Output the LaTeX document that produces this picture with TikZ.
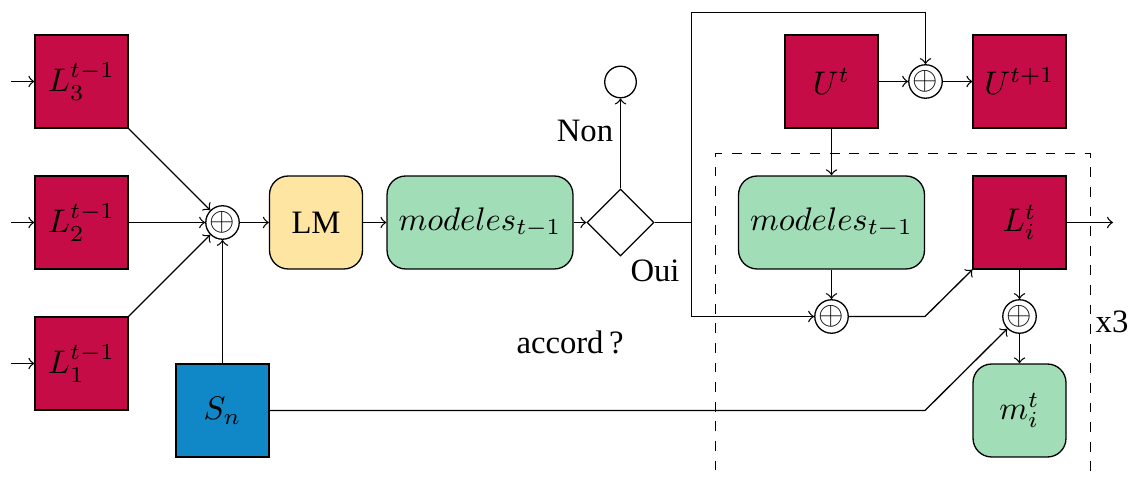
\documentclass[tikz,border=0pt]{standalone}
\usepackage{fontspec}
\setmainfont{Liberation Serif}
\usetikzlibrary{shapes.geometric}
\definecolor{myred}{RGB}{198,12,70}
\definecolor{myblue}{RGB}{16,136,200}
\definecolor{mygreen}{RGB}{161,221,183}
\definecolor{myyellow}{RGB}{255,229,162}
\tikzset{
  redbox/.style={draw, fill=myred, minimum size=1cm, inner sep=0pt},
  bluebox/.style={draw, fill=myblue, minimum size=1cm, inner sep=0pt},
  greenbox/.style={draw, fill=mygreen, rounded corners=0.2cm, minimum height=1cm, minimum width=2cm, inner sep=0pt},
  greensq/.style={draw, fill=mygreen, rounded corners=0.2cm, minimum size=1cm, inner sep=0pt},
  yellowbox/.style={draw, fill=myyellow, rounded corners=0.2cm, minimum size=1cm, inner sep=0pt},
  opl/.style={circle, draw, inner sep=0pt, minimum size=0.36cm},
  endc/.style={circle, draw, inner sep=0pt, minimum size=0.34cm},
  decide/.style={diamond, draw, aspect=1, inner sep=0pt, minimum width=0.72cm, minimum height=0.72cm},
  conn/.style={->},
  lbl/.style={inner sep=0pt}
}
\begin{document}
\begin{tikzpicture}[x=0.010753cm, y=-0.010753cm]
\clip (0,0) rectangle (1132,479);
% dashed frame
\draw[dashed] (715.5,490) -- (715.5,153.5) -- (1090.5,153.5) -- (1090.5,490);
% left boxes
\node[redbox] (L3) at (81.5,81.5) {$L_3^{t-1}$};
\node[redbox] (L2) at (81.5,222.5) {$L_2^{t-1}$};
\node[redbox] (L1) at (81.5,363.5) {$L_1^{t-1}$};
\coordinate (i3) at (11,81.5);
\coordinate (i2) at (11,222.5);
\coordinate (i1) at (11,363.5);
\draw[conn] (i3) -- (L3);
\draw[conn] (i2) -- (L2);
\draw[conn] (i1) -- (L1);
\node[opl] (o1) at (222.5,222.5) {$\oplus$};
\node[bluebox] (Sn) at (222.5,410.5) {$S_n$};
\node[yellowbox] (LM) at (316,222.5) {LM};
\node[greenbox] (M1) at (480,222.5) {$modeles_{t-1}$};
\node[decide] (D) at (620.5,222.5) {};
\node[endc] (E) at (620.5,82) {};
\node[lbl] at (585,131) {Non};
\node[lbl] at (655,271) {Oui};
\node[lbl] at (570,342) {accord\,?};
\draw[conn] (L3.south east) -- (o1);
\draw[conn] (L2) -- (o1);
\draw[conn] (L1.north east) -- (o1);
\draw[conn] (Sn) -- (o1);
\draw[conn] (o1) -- (LM);
\draw[conn] (LM) -- (M1);
\draw[conn] (M1) -- (D);
\draw[conn] (D) -- (E);
% right part
\node[redbox] (U) at (831.5,81.5) {$U^t$};
\node[opl] (o2) at (925.5,81.5) {$\oplus$};
\node[redbox] (U1) at (1019.5,81.5) {$U^{t+1}$};
\node[greenbox] (M2) at (831.5,222.5) {$modeles_{t-1}$};
\node[redbox] (Li) at (1019.5,222.5) {$L_i^t$};
\node[opl] (o3) at (831.5,316.5) {$\oplus$};
\node[opl] (o4) at (1019.5,316.5) {$\oplus$};
\node[greensq] (m) at (1019.5,410.5) {$m_i^t$};
\node[lbl] at (1112,322) {x3};
\coordinate (j) at (691.5,222.5);
\coordinate (top) at (691.5,12.5);
\coordinate (k1) at (925,316.5);
\coordinate (k2) at (925,410.5);
\coordinate (out) at (1113,222.5);
\draw (D.east) -- (j);
\draw[conn] (j) -- (top) -| (o2);
\draw[conn] (j) |- (o3);
\draw[conn] (U) -- (o2);
\draw[conn] (o2) -- (U1);
\draw[conn] (U) -- (M2);
\draw[conn] (M2) -- (o3);
\draw[conn] (o3) -- (k1) -- (Li.south west);
\draw[conn] (Li) -- (out);
\draw[conn] (Li) -- (o4);
\draw[conn] (o4) -- (m);
\draw[conn] (Sn) -- (k2) -- (o4.south west);
\end{tikzpicture}
\end{document}
